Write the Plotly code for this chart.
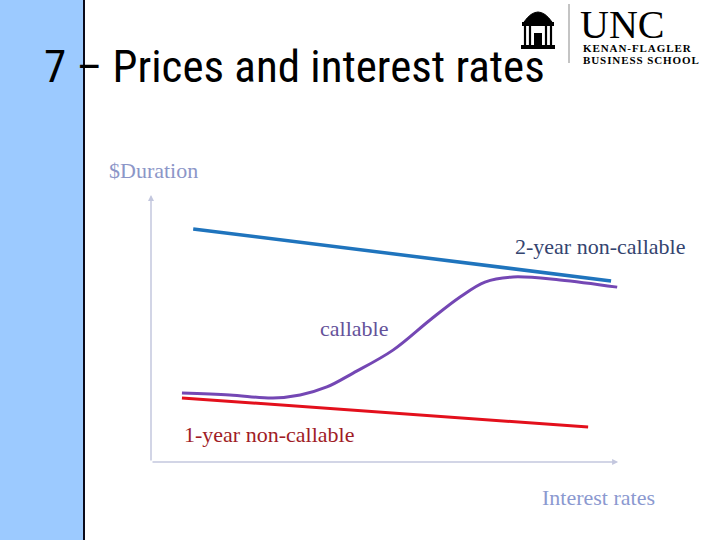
import plotly.graph_objects as go

# ---- data (abstract units: interest rate 0-10, $duration 0-10) ----
two_year_x = [0.90, 9.81]
two_year_y = [8.73, 6.78]

one_year_x = [0.66, 9.32]
one_year_y = [2.40, 1.31]

callable_x = [0.66, 1.68, 2.60, 3.18, 3.75, 4.31, 5.16, 5.95, 6.59, 7.12, 7.72, 8.72, 9.94]
callable_y = [2.58, 2.51, 2.40, 2.51, 2.81, 3.33, 4.19, 5.32, 6.18, 6.74, 6.93, 6.82, 6.55]

title_text = "7 \u2013 Prices and interest rates"
y_label = "$Duration"
x_label = "Interest rates"
label_two = "2-year non-callable"
label_one = "1-year non-callable"
label_call = "callable"

# ---- layout geometry (pixels) ----
W, H = 720, 540
L, R, T, B = 151, 100, 195, 78
PW, PH = W - L - R, H - T - B


def px(x):
    return (x - L) / PW


def py(y):
    return (H - B - y) / PH


fig = go.Figure()
fig.add_trace(go.Scatter(x=two_year_x, y=two_year_y, mode="lines",
                         line=dict(color="#1f74bd", width=3.5), hoverinfo="skip"))
fig.add_trace(go.Scatter(x=callable_x, y=callable_y, mode="lines", line_shape="spline",
                         line=dict(color="#7447b4", width=3), hoverinfo="skip"))
fig.add_trace(go.Scatter(x=one_year_x, y=one_year_y, mode="lines",
                         line=dict(color="#e3101c", width=3), hoverinfo="skip"))

serif = "Liberation Serif, Times New Roman, serif"
ann = []
# axes arrows
axis_col = "#c3c7de"
ann.append(dict(x=0, y=10, ax=0, ay=0, xref="x", yref="y", axref="x", ayref="y",
                text="", showarrow=True, arrowhead=2, arrowsize=0.8, arrowwidth=1.5,
                arrowcolor=axis_col))
ann.append(dict(x=9.96, y=0, ax=0, ay=0, xref="x", yref="y", axref="x", ayref="y",
                text="", showarrow=True, arrowhead=2, arrowsize=0.8, arrowwidth=1.5,
                arrowcolor=axis_col))


def label(text, cx, cy, color, size=22, family=serif, xanchor="center"):
    ann.append(dict(x=px(cx), y=py(cy), xref="paper", yref="paper", text=text,
                    showarrow=False, xanchor=xanchor, yanchor="middle",
                    font=dict(family=family, size=size, color=color)))


label(y_label, 153, 170, "#8c96c8")
label(label_two, 600, 246, "#34446f")
label(label_call, 354, 328, "#65529a")
label(label_one, 269, 434, "#a01c26")
label(x_label, 598, 498, "#8b99d0")

# title
ann.append(dict(x=px(42), y=py(95), xref="paper", yref="paper", text=title_text,
                showarrow=False, xanchor="left", yanchor="bottom",
                font=dict(family="Liberation Sans Narrow, Roboto Condensed, Liberation Sans, sans-serif",
                          size=45, color="black")))

# logo text
hs = "\u200a"
ann.append(dict(x=px(578), y=py(49), xref="paper", yref="paper", text="UNC",
                showarrow=False, xanchor="left", yanchor="bottom",
                font=dict(family=serif, size=40, color="black")))
ann.append(dict(x=px(581), y=py(48), xref="paper", yref="paper",
                text=hs.join("KENAN-FLAGLER"),
                showarrow=False, xanchor="left", yanchor="middle",
                font=dict(family=serif, size=11, color="black", weight="bold")))
ann.append(dict(x=px(581), y=py(60), xref="paper", yref="paper",
                text=hs.join("BUSINESS SCHOOL"),
                showarrow=False, xanchor="left", yanchor="middle",
                font=dict(family=serif, size=11, color="black", weight="bold")))

shapes = []
# left blue bar
shapes.append(dict(type="rect", xref="paper", yref="paper", x0=px(-1), x1=px(84),
                   y0=py(541), y1=py(-1), fillcolor="#9ccaff",
                   line=dict(color="#0a0a1a", width=2), layer="below"))
# logo divider
shapes.append(dict(type="line", xref="paper", yref="paper", x0=px(569), x1=px(569),
                   y0=py(4), y1=py(63), line=dict(color="#b0b0b0", width=1.5)))
# Old Well icon
dome = "M {x0},{y0} Q {xc},{yt} {x1},{y0} Z".format(
    x0=px(524), x1=px(552), xc=px(538), y0=py(22), yt=py(2))
shapes.append(dict(type="path", xref="paper", yref="paper", path=dome,
                   fillcolor="black", line=dict(color="black", width=1)))
shapes.append(dict(type="rect", xref="paper", yref="paper", x0=px(522), x1=px(554),
                   y0=py(26), y1=py(22), fillcolor="black", line=dict(width=0)))
for cx in [525, 530, 546, 551]:
    shapes.append(dict(type="line", xref="paper", yref="paper", x0=px(cx), x1=px(cx),
                       y0=py(26), y1=py(45), line=dict(color="black", width=2.2)))
shapes.append(dict(type="rect", xref="paper", yref="paper", x0=px(534), x1=px(542),
                   y0=py(45), y1=py(33), fillcolor="black", line=dict(width=0)))
shapes.append(dict(type="rect", xref="paper", yref="paper", x0=px(521), x1=px(555),
                   y0=py(49), y1=py(45), fillcolor="black", line=dict(width=0)))

fig.update_layout(
    width=W, height=H,
    margin=dict(l=L, r=R, t=T, b=B),
    paper_bgcolor="white", plot_bgcolor="white",
    showlegend=False,
    xaxis=dict(range=[0, 10], visible=False, fixedrange=True),
    yaxis=dict(range=[0, 10], visible=False, fixedrange=True),
    annotations=ann,
    shapes=shapes,
)

fig.write_html("out.html", config={"displayModeBar": False},
               post_script="document.body.style.margin='0';document.body.style.overflow='hidden';")
